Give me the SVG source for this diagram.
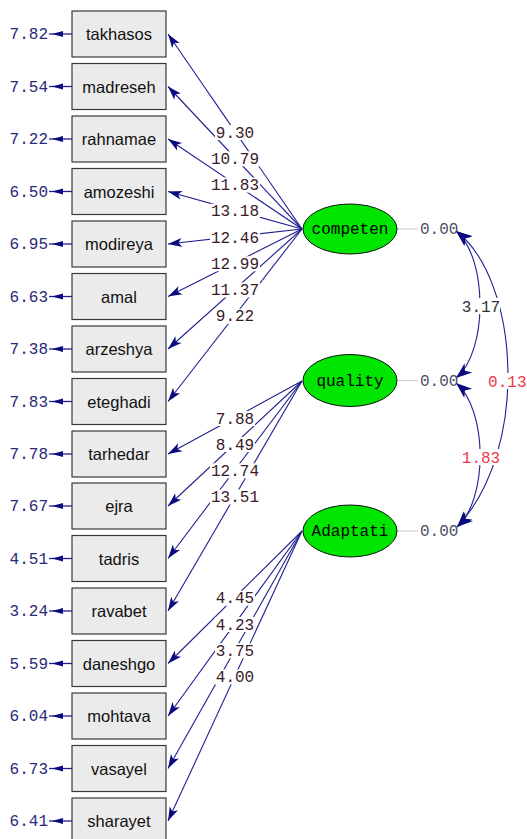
<svg xmlns="http://www.w3.org/2000/svg" width="527" height="839" viewBox="0 0 527 839">
<style>
.box{fill:#ebebeb;stroke:#3a3a3a;stroke-width:1.2}
.bt{font-family:"Liberation Sans",Arial,sans-serif;font-size:16.5px;fill:#111;text-anchor:middle}
.lat{fill:#00e600;stroke:#111;stroke-width:1}
.lt{font-family:"Liberation Mono","Courier New",monospace;font-size:16px;fill:#000;text-anchor:middle}
.ev{font-family:"Liberation Mono","Courier New",monospace;font-size:16px;fill:#2a2a78;text-anchor:end}
.ld{font-family:"Liberation Mono","Courier New",monospace;font-size:16px;fill:#3a1a2a;text-anchor:middle}
.zz{font-family:"Liberation Mono","Courier New",monospace;font-size:16px;fill:#4a5068}
.cv{font-family:"Liberation Mono","Courier New",monospace;font-size:16px;fill:#333;text-anchor:middle}
.red{fill:#f0384c}
.ln{stroke:#1f1f8f;stroke-width:1.1;fill:none}
.ea{stroke:#1f1f8f;stroke-width:1.3}
.eh{fill:#0a0a80}
.bg{fill:#fff}
.gl{stroke:#cfcfcf;stroke-width:1.2}
</style>
<defs>
<marker id="ah" markerUnits="userSpaceOnUse" markerWidth="18" markerHeight="12" refX="15" refY="6" orient="auto" viewBox="0 0 18 12"><path d="M1,1.5 L15,6 L1,10.5 L4.5,6 Z" fill="#0a0a80"/></marker>
<marker id="ch" markerUnits="userSpaceOnUse" markerWidth="20" markerHeight="14" refX="17" refY="7" orient="auto-start-reverse" viewBox="0 0 20 14"><path d="M1,1 L17,7 L1,13 L5.5,7 Z" fill="#0a0a80"/></marker>
</defs>

<g id="connectors">
<line class="ln" marker-end="url(#ah)" x1="302" y1="229" x2="168" y2="34"/>
<line class="ln" marker-end="url(#ah)" x1="302" y1="229" x2="168" y2="86.5"/>
<line class="ln" marker-end="url(#ah)" x1="302" y1="229" x2="168" y2="139"/>
<line class="ln" marker-end="url(#ah)" x1="302" y1="229" x2="168" y2="191.5"/>
<line class="ln" marker-end="url(#ah)" x1="302" y1="229" x2="168" y2="244"/>
<line class="ln" marker-end="url(#ah)" x1="302" y1="229" x2="168" y2="296.5"/>
<line class="ln" marker-end="url(#ah)" x1="302" y1="229" x2="168" y2="349"/>
<line class="ln" marker-end="url(#ah)" x1="302" y1="229" x2="168" y2="401.5"/>
<line class="ln" marker-end="url(#ah)" x1="302" y1="381" x2="168" y2="454"/>
<line class="ln" marker-end="url(#ah)" x1="302" y1="381" x2="168" y2="506"/>
<line class="ln" marker-end="url(#ah)" x1="302" y1="381" x2="168" y2="558.5"/>
<line class="ln" marker-end="url(#ah)" x1="302" y1="381" x2="168" y2="611"/>
<line class="ln" marker-end="url(#ah)" x1="302" y1="531" x2="168" y2="663.5"/>
<line class="ln" marker-end="url(#ah)" x1="302" y1="531" x2="168" y2="716"/>
<line class="ln" marker-end="url(#ah)" x1="302" y1="531" x2="168" y2="768.5"/>
<line class="ln" marker-end="url(#ah)" x1="302" y1="531" x2="168" y2="821"/>

<g id="loading-labels">
<rect class="bg" x="215" y="125" width="40" height="15"/><text class="ld" x="235" y="137.5">9.30</text>
<rect class="bg" x="210" y="151.3" width="50" height="15"/><text class="ld" x="235" y="163.8">10.79</text>
<rect class="bg" x="210" y="177.5" width="50" height="15"/><text class="ld" x="235" y="190">11.83</text>
<rect class="bg" x="210" y="203.8" width="50" height="15"/><text class="ld" x="235" y="216.3">13.18</text>
<rect class="bg" x="210" y="230" width="50" height="15"/><text class="ld" x="235" y="242.5">12.46</text>
<rect class="bg" x="210" y="256.3" width="50" height="15"/><text class="ld" x="235" y="268.8">12.99</text>
<rect class="bg" x="210" y="282.5" width="50" height="15"/><text class="ld" x="235" y="295">11.37</text>
<rect class="bg" x="215" y="308.8" width="40" height="15"/><text class="ld" x="235" y="321.3">9.22</text>
<rect class="bg" x="215" y="411" width="40" height="15"/><text class="ld" x="235" y="423.5">7.88</text>
<rect class="bg" x="215" y="437" width="40" height="15"/><text class="ld" x="235" y="449.5">8.49</text>
<rect class="bg" x="210" y="463.3" width="50" height="15"/><text class="ld" x="235" y="475.8">12.74</text>
<rect class="bg" x="210" y="489.5" width="50" height="15"/><text class="ld" x="235" y="502">13.51</text>
<rect class="bg" x="215" y="590.8" width="40" height="15"/><text class="ld" x="235" y="603.3">4.45</text>
<rect class="bg" x="215" y="617" width="40" height="15"/><text class="ld" x="235" y="629.5">4.23</text>
<rect class="bg" x="215" y="643.3" width="40" height="15"/><text class="ld" x="235" y="655.8">3.75</text>
<rect class="bg" x="215" y="669.5" width="40" height="15"/><text class="ld" x="235" y="682">4.00</text>
</g>

<g id="error-arrows">
<line class="ea" x1="72" y1="34" x2="49" y2="34"/><polygon class="eh" points="52,34 63,31 63,37"/>
<line class="ea" x1="72" y1="86.5" x2="49" y2="86.5"/><polygon class="eh" points="52,86.5 63,83.5 63,89.5"/>
<line class="ea" x1="72" y1="139" x2="49" y2="139"/><polygon class="eh" points="52,139 63,136 63,142"/>
<line class="ea" x1="72" y1="191.5" x2="49" y2="191.5"/><polygon class="eh" points="52,191.5 63,188.5 63,194.5"/>
<line class="ea" x1="72" y1="244" x2="49" y2="244"/><polygon class="eh" points="52,244 63,241 63,247"/>
<line class="ea" x1="72" y1="296.5" x2="49" y2="296.5"/><polygon class="eh" points="52,296.5 63,293.5 63,299.5"/>
<line class="ea" x1="72" y1="349" x2="49" y2="349"/><polygon class="eh" points="52,349 63,346 63,352"/>
<line class="ea" x1="72" y1="401.5" x2="49" y2="401.5"/><polygon class="eh" points="52,401.5 63,398.5 63,404.5"/>
<line class="ea" x1="72" y1="454" x2="49" y2="454"/><polygon class="eh" points="52,454 63,451 63,457"/>
<line class="ea" x1="72" y1="506" x2="49" y2="506"/><polygon class="eh" points="52,506 63,503 63,509"/>
<line class="ea" x1="72" y1="558.5" x2="49" y2="558.5"/><polygon class="eh" points="52,558.5 63,555.5 63,561.5"/>
<line class="ea" x1="72" y1="611" x2="49" y2="611"/><polygon class="eh" points="52,611 63,608 63,614"/>
<line class="ea" x1="72" y1="663.5" x2="49" y2="663.5"/><polygon class="eh" points="52,663.5 63,660.5 63,666.5"/>
<line class="ea" x1="72" y1="716" x2="49" y2="716"/><polygon class="eh" points="52,716 63,713 63,719"/>
<line class="ea" x1="72" y1="768.5" x2="49" y2="768.5"/><polygon class="eh" points="52,768.5 63,765.5 63,771.5"/>
<line class="ea" x1="72" y1="821" x2="49" y2="821"/><polygon class="eh" points="52,821 63,818 63,824"/>
</g>

<g id="variance-lines">
<line class="gl" x1="397" y1="229" x2="418" y2="229"/>
<line class="gl" x1="397" y1="380.5" x2="418" y2="380.5"/>
<line class="gl" x1="397" y1="531" x2="418" y2="531"/>
</g>

<g id="covariances">
<path class="ln" marker-start="url(#ch)" marker-end="url(#ch)" d="M456,231 C488,258 488,352 456,378"/>
<path class="ln" marker-start="url(#ch)" marker-end="url(#ch)" d="M456,231 C520,280 530,450 457,527"/>
<path class="ln" marker-start="url(#ch)" marker-end="url(#ch)" d="M456,383 C488,410 488,500 457,527"/>
<rect class="bg" x="462" y="298" width="38" height="16"/><text class="cv" x="481" y="311.5">3.17</text>
<rect class="bg" x="488" y="373" width="39" height="16"/><text class="cv red" x="507.3" y="386.5">0.13</text>
<rect class="bg" x="462" y="449" width="38" height="16"/><text class="cv red" x="481" y="462.5">1.83</text>
</g>
</g>

<g id="error-values">
<text class="ev" x="48" y="39">7.82</text>
<text class="ev" x="48" y="91.5">7.54</text>
<text class="ev" x="48" y="144">7.22</text>
<text class="ev" x="48" y="196.5">6.50</text>
<text class="ev" x="48" y="249">6.95</text>
<text class="ev" x="48" y="301.5">6.63</text>
<text class="ev" x="48" y="354">7.38</text>
<text class="ev" x="48" y="406.5">7.83</text>
<text class="ev" x="48" y="459">7.78</text>
<text class="ev" x="48" y="511">7.67</text>
<text class="ev" x="48" y="563.5">4.51</text>
<text class="ev" x="48" y="616">3.24</text>
<text class="ev" x="48" y="668.5">5.59</text>
<text class="ev" x="48" y="721">6.04</text>
<text class="ev" x="48" y="773.5">6.73</text>
<text class="ev" x="48" y="826">6.41</text>
</g>

<g id="takhasos"><rect class="box" x="72" y="11" width="94" height="46"/><text class="bt" x="119" y="40">takhasos</text></g>
<g id="madreseh"><rect class="box" x="72" y="63.5" width="94" height="46"/><text class="bt" x="119" y="92.5">madreseh</text></g>
<g id="rahnamae"><rect class="box" x="72" y="116" width="94" height="46"/><text class="bt" x="119" y="145">rahnamae</text></g>
<g id="amozeshi"><rect class="box" x="72" y="168.5" width="94" height="46"/><text class="bt" x="119" y="197.5">amozeshi</text></g>
<g id="modireya"><rect class="box" x="72" y="221" width="94" height="46"/><text class="bt" x="119" y="250">modireya</text></g>
<g id="amal"><rect class="box" x="72" y="273.5" width="94" height="46"/><text class="bt" x="119" y="302.5">amal</text></g>
<g id="arzeshya"><rect class="box" x="72" y="326" width="94" height="46"/><text class="bt" x="119" y="355">arzeshya</text></g>
<g id="eteghadi"><rect class="box" x="72" y="378.5" width="94" height="46"/><text class="bt" x="119" y="407.5">eteghadi</text></g>
<g id="tarhedar"><rect class="box" x="72" y="431" width="94" height="46"/><text class="bt" x="119" y="460">tarhedar</text></g>
<g id="ejra"><rect class="box" x="72" y="483" width="94" height="46"/><text class="bt" x="119" y="512">ejra</text></g>
<g id="tadris"><rect class="box" x="72" y="535.5" width="94" height="46"/><text class="bt" x="119" y="564.5">tadris</text></g>
<g id="ravabet"><rect class="box" x="72" y="588" width="94" height="46"/><text class="bt" x="119" y="617">ravabet</text></g>
<g id="daneshgo"><rect class="box" x="72" y="640.5" width="94" height="46"/><text class="bt" x="119" y="669.5">daneshgo</text></g>
<g id="mohtava"><rect class="box" x="72" y="693" width="94" height="46"/><text class="bt" x="119" y="722">mohtava</text></g>
<g id="vasayel"><rect class="box" x="72" y="745.5" width="94" height="46"/><text class="bt" x="119" y="774.5">vasayel</text></g>
<g id="sharayet"><rect class="box" x="72" y="798" width="94" height="46"/><text class="bt" x="119" y="827">sharayet</text></g>

<g id="competen"><ellipse class="lat" cx="350" cy="229" rx="47" ry="25"/><text class="lt" x="350" y="234">competen</text><text class="zz" x="420" y="234">0.00</text></g>
<g id="quality"><ellipse class="lat" cx="350" cy="380.5" rx="47" ry="26"/><text class="lt" x="350" y="385.5">quality</text><text class="zz" x="420" y="385.5">0.00</text></g>
<g id="Adaptati"><ellipse class="lat" cx="350" cy="531" rx="47" ry="26"/><text class="lt" x="350" y="536">Adaptati</text><text class="zz" x="420" y="536">0.00</text></g>
</svg>
